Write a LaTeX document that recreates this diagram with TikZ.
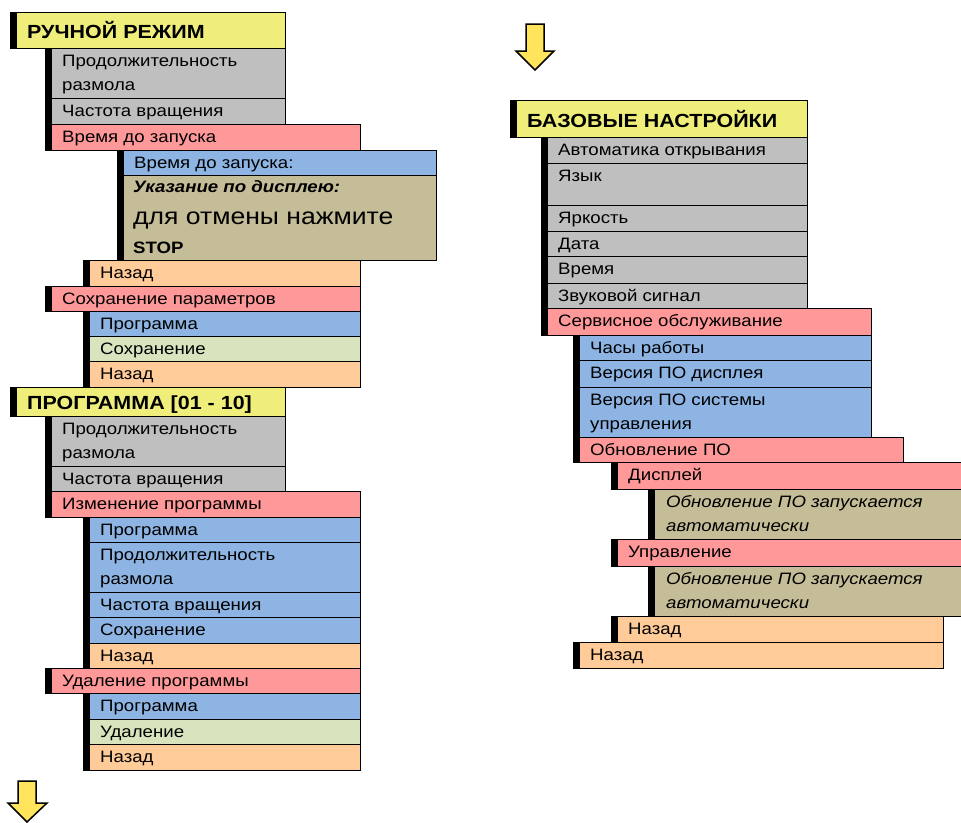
\documentclass[tikz,border=0pt]{standalone}
\usepackage{fontspec}
\setmainfont[FakeStretch=1.13]{Liberation Sans}
\usepackage{tikz}
\usetikzlibrary{positioning,calc}

\definecolor{yellowT}{HTML}{F0EE7A}
\definecolor{grayR}{HTML}{BFBFBF}
\definecolor{pinkR}{HTML}{FF9999}
\definecolor{blueR}{HTML}{8DB4E2}
\definecolor{tanR}{HTML}{C4BD97}
\definecolor{greenR}{HTML}{D7E4BD}
\definecolor{peachR}{HTML}{FFCC99}
\definecolor{arrowY}{HTML}{FFE45C}

\begin{document}
\begin{tikzpicture}[x=1pt, y=-1pt,
    row/.style={rectangle, draw, line width=1.2pt, anchor=north west, inner sep=0pt,
        path picture={\fill[black] (path picture bounding box.north west) rectangle ([xshift=6pt]path picture bounding box.south west);}},
    txt/.style={anchor=north west, inner sep=0pt, align=left, font=\fontsize{16.5}{24}\selectfont},
    head/.style={anchor=base west, inner sep=0pt, font=\fontsize{19}{22}\selectfont\bfseries},
    bigarrow/.style={draw, line width=1.5pt, fill=arrowY, line join=miter}
]
    \useasboundingbox (0,0) rectangle (961,822);

    % Ручной режим
    \node[row, fill=yellowT, minimum width=275pt, minimum height=36pt] (manual) at (10,12) {};
    \node[head] (manualT) at ([xshift=17pt, yshift=-26.5pt]manual.north west) {РУЧНОЙ РЕЖИМ};

    \foreach \x/\y/\w/\h/\c/\t [count=\i] in {
        45/48/240/50/grayR/{Продолжительность\\размола},
        45/98/240/26/grayR/{Частота вращения},
        45/124/315/26/pinkR/{Время до запуска},
        117/150/319/25/blueR/{Время до запуска:},
        83/260/277/26/peachR/{Назад},
        45/286/315/25/pinkR/{Сохранение параметров},
        83/311/277/25/blueR/{Программа},
        83/336/277/25/greenR/{Сохранение},
        83/361/277/26/peachR/{Назад}} {
        \node[row, fill=\c, minimum width=\w pt, minimum height=\h pt] (m\i) at (\x,\y) {};
        \node[txt] (mT\i) at ([xshift=17pt, yshift=-1.7pt]m\i.north west) {\strut\t};
    }

    % Указание по дисплею
    \node[row, fill=tanR, minimum width=319pt, minimum height=85pt] (hint) at (117,175) {};
    \node[head, font=\fontsize{16.5}{24}\selectfont\bfseries\itshape] (hintA) at ([xshift=16pt, yshift=-17pt]hint.north west) {Указание по дисплею:};
    \node[head, font=\fontsize{23.5}{26}\selectfont] (hintB) at ([xshift=16pt, yshift=-49pt]hint.north west) {для отмены нажмите};
    \node[head, font=\fontsize{16.5}{24}\selectfont\bfseries] (hintC) at ([xshift=16pt, yshift=-78pt]hint.north west) {STOP};

    % Программа [01 - 10]
    \node[row, fill=yellowT, minimum width=275pt, minimum height=29pt] (prog) at (10,387) {};
    \node[head] (progT) at ([xshift=17pt, yshift=-22pt]prog.north west) {ПРОГРАММА [01 - 10]};

    \foreach \x/\y/\w/\h/\c/\t [count=\i] in {
        45/416/240/50/grayR/{Продолжительность\\размола},
        45/466/240/25/grayR/{Частота вращения},
        45/491/315/26/pinkR/{Изменение программы},
        83/517/277/25/blueR/{Программа},
        83/542/277/50/blueR/{Продолжительность\\размола},
        83/592/277/25/blueR/{Частота вращения},
        83/617/277/26/blueR/{Сохранение},
        83/643/277/25/peachR/{Назад},
        45/668/315/25/pinkR/{Удаление программы},
        83/693/277/26/blueR/{Программа},
        83/719/277/25/greenR/{Удаление},
        83/744/277/26/peachR/{Назад}} {
        \node[row, fill=\c, minimum width=\w pt, minimum height=\h pt] (p\i) at (\x,\y) {};
        \node[txt] (pT\i) at ([xshift=17pt, yshift=-1.7pt]p\i.north west) {\strut\t};
    }

    % Базовые настройки
    \node[row, fill=yellowT, minimum width=297pt, minimum height=37pt] (base) at (510,100) {};
    \node[head] (baseT) at ([xshift=17pt, yshift=-27.5pt]base.north west) {БАЗОВЫЕ НАСТРОЙКИ};

    \foreach \x/\y/\w/\h/\c/\t [count=\i] in {
        541/137/266/26/grayR/{Автоматика открывания},
        541/163/266/42/grayR/{Язык},
        541/205/266/26/grayR/{Яркость},
        541/231/266/25/grayR/{Дата},
        541/256/266/27/grayR/{Время},
        541/283/266/25/grayR/{Звуковой сигнал},
        541/308/330/27/pinkR/{Сервисное обслуживание},
        573/335/298/25/blueR/{Часы работы},
        573/360/298/27/blueR/{Версия ПО дисплея},
        573/387/298/50/blueR/{Версия ПО системы\\управления},
        573/437/330/25/pinkR/{Обновление ПО},
        611/462/360/27/pinkR/{Дисплей},
        611/539/360/27/pinkR/{Управление},
        611/616/332/26/peachR/{Назад},
        573/642/370/26/peachR/{Назад}} {
        \node[row, fill=\c, minimum width=\w pt, minimum height=\h pt] (s\i) at (\x,\y) {};
        \node[txt] (sT\i) at ([xshift=17pt, yshift=-1.7pt]s\i.north west) {\strut\t};
    }

    % Обновление ПО
    \foreach \y [count=\i] in {489,566} {
        \node[row, fill=tanR, minimum width=323pt, minimum height=50pt] (upd\i) at (648,\y) {};
        \node[txt, font=\fontsize{16.5}{24}\selectfont\itshape] (updT\i) at ([xshift=18pt, yshift=-1.7pt]upd\i.north west) {\strut Обновление ПО запускается\\автоматически};
    }

    % Стрелки
    \draw[bigarrow] (526,24) -- (544,24) -- (544,51) -- (554,51) -- (535,70) -- (516,51) -- (526,51) -- cycle;
    \draw[bigarrow] (18,781) -- (36,781) -- (36,803) -- (47,803) -- (27,822) -- (8,803) -- (18,803) -- cycle;
\end{tikzpicture}
\end{document}
